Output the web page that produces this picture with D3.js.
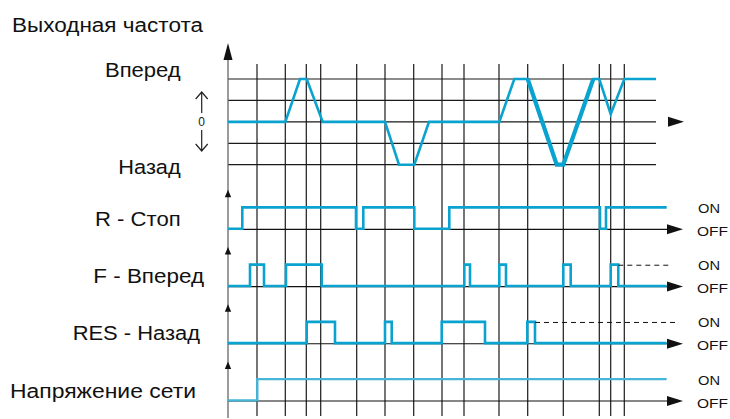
<!DOCTYPE html>
<html><head><meta charset="utf-8">
<script src="https://cdn.jsdelivr.net/npm/d3@7"></script>
<style>html,body{margin:0;padding:0;background:#fff;}svg{display:block;font-family:"Liberation Sans",Arial,sans-serif;}</style>
</head><body>
<svg id="c" width="730" height="419"></svg>
<script>
// ---- data (time units, 0..44) ----
const gridTimes = [2.9, 5.73, 7.83, 9.27, 12.87, 15.7, 18.57, 21.4, 23.6, 27.1, 29.97, 33.53, 37.13, 38.27, 39.63];
const speedLevels = [2, 1, 0, -1, -2];
const speedT = [0, 5.73, 7.2, 7.87, 9.47, 15.7, 17.1, 18.63, 20.1, 27.13, 28.63, 29.97, 32.87, 33.53, 36.53, 37.13, 38.27, 39.63, 42.8];
const speedV = [0, 0, 2, 2, 0, 0, -2, -2, 0, 0, 2, 2, -2, -2, 2, 2, 0.36, 2, 2];
const thickFrom = 11, thickTo = 14; // indices of the heavier segment
const rows = ["R - Стоп", "F - Вперед", "RES - Назад", "Напряжение сети"];
// state transitions [time, state]
const rStop = [[0,0],[1.43,1],[12.8,0],[13.53,1],[18.63,0],[22.13,1],[37.2,0],[37.8,1]];
const fFwd = [[0,0],[2.2,1],[3.6,0],[5.8,1],[9.37,0],[23.63,1],[24.2,0],[27.13,1],[27.8,0],[33.53,1],[34.27,0],[38.27,1],[39.03,0]];
const resRev = [[0,0],[7.87,1],[10.7,0],[15.7,1],[16.37,0],[21.37,1],[25.7,0],[29.93,1],[30.7,0]];
const power = [[0,0],[2.93,1]];
const rowStates = [rStop, fFwd, resRev, power];
const dashedFrom = [null, 39.03, 30.7, null];
const dashedTo = [null, 44.2, 44.7, null];
const endT = 43.87;
const onLabel = "ON", offLabel = "OFF";

const svg = d3.select("#c");
const blue = "#0aa3d0";
const x = d3.scaleLinear().domain([0, 44]).range([228, 668]);
const ySpeed = d3.scaleLinear().domain([-2, 2]).range([164.7, 79]);
const rowY = d3.scalePoint().domain(rows).range([229.3, 401]);
const onH = 21.3;

function label(px, py, str, size, len, anchor) {
  const t = svg.append("text").attr("x", px).attr("y", py).attr("font-size", size).attr("fill", "#111")
    .attr("text-anchor", anchor || "start").text(str);
  if (len) t.attr("textLength", len).attr("lengthAdjust", "spacingAndGlyphs");
  return t;
}

// vertical grid
svg.selectAll("line.vg").data(gridTimes).enter().append("line")
  .attr("x1", d => x(d)).attr("x2", d => x(d)).attr("y1", 64).attr("y2", 416)
  .attr("stroke", "#1a1a1a").attr("stroke-width", 1.2);

// horizontal speed grid
svg.selectAll("line.hg").data(speedLevels).enter().append("line")
  .attr("x1", x(0)).attr("x2", x(42.8)).attr("y1", d => ySpeed(d)).attr("y2", d => ySpeed(d))
  .attr("stroke", "#1a1a1a").attr("stroke-width", 1.2);

// main axis line
svg.append("line").attr("x1", x(0)).attr("x2", x(0)).attr("y1", 50).attr("y2", 418)
  .attr("stroke", "#666").attr("stroke-width", 1.3);
const ax = x(0);
svg.append("path").attr("d", `M${ax},43 L${ax-4.5},60 L${ax+4.5},60 Z`).attr("fill", "#111");
svg.append("path").attr("d", `M${x(44)},${ySpeed(0)-5} L${x(44)+16},${ySpeed(0)} L${x(44)},${ySpeed(0)+5} Z`).attr("fill", "#111");

// speed line
const spd = speedT.map((t, i) => [t, speedV[i]]);
const lineS = d3.line().x(d => x(d[0])).y(d => ySpeed(d[1]));
svg.append("path").attr("d", lineS(spd)).attr("fill", "none").attr("stroke", blue)
  .attr("stroke-width", 2.6).attr("stroke-linejoin", "miter");
svg.append("path").attr("d", lineS(spd.slice(thickFrom, thickTo + 1))).attr("fill", "none").attr("stroke", blue)
  .attr("stroke-width", 4.2).attr("stroke-linejoin", "miter");

// top labels
label(12, 32, "Выходная частота", 20, 191);
label(105, 76.7, "Вперед", 20.5, 75.7);
label(118.3, 173.5, "Назад", 20.5, 62.4);
const ux = 201.7;
svg.append("path").attr("d", `M${ux},92 L${ux},113 M${ux-6},99 L${ux},92 L${ux+6},99`).attr("fill", "none").attr("stroke", "#222").attr("stroke-width", 1.2);
svg.append("path").attr("d", `M${ux},130 L${ux},151 M${ux-6},144 L${ux},151 L${ux+6},144`).attr("fill", "none").attr("stroke", "#222").attr("stroke-width", 1.2);
label(ux, 126, "0", 12, null, "middle").attr("fill", "#222");

// rows
const rowLabelX = [95, 93.3, 72.7, 10];
const rowLabelW = [85.7, 110.7, 127.3, 186];
const stepLine = d3.line().curve(d3.curveStepAfter);
rows.forEach((r, i) => {
  const yOff = rowY(r), yOn = yOff - onH;
  svg.append("path").attr("d", `M${ax},${yOff-39.5} L${ax-3.2},${yOff-32} L${ax+3.2},${yOff-32} Z`).attr("fill", "#111");
  svg.append("line").attr("x1", x(0)).attr("x2", x(44)).attr("y1", yOff).attr("y2", yOff)
    .attr("stroke", "#111").attr("stroke-width", 1.2);
  svg.append("path").attr("d", `M${x(44)-1},${yOff-5} L${x(44)+15},${yOff} L${x(44)-1},${yOff+5} Z`).attr("fill", "#111");
  const st = rowStates[i];
  const pts = st.map(d => [x(d[0]), d[1] ? yOn : yOff]);
  pts.push([x(endT), st[st.length - 1][1] ? yOn : yOff]);
  const col = i === 3 ? "#45b5d8" : blue;
  svg.append("path").attr("d", stepLine(pts)).attr("fill", "none").attr("stroke", col)
    .attr("stroke-width", i === 3 ? 2.4 : 2.6).attr("transform", "translate(0,-0.6)");
  if (dashedFrom[i] !== null) {
    svg.append("line").attr("x1", x(dashedFrom[i])).attr("x2", x(dashedTo[i])).attr("y1", yOn).attr("y2", yOn)
      .attr("stroke", "#111").attr("stroke-width", 1).attr("stroke-dasharray", "5,4");
  }
  label(698, yOn + 5, onLabel, 13, 22);
  label(697, yOff + 6.5, offLabel, 13, 31);
  label(rowLabelX[i], yOff - 3.5, r, 19.5, rowLabelW[i]);
});
</script>
</body></html>
